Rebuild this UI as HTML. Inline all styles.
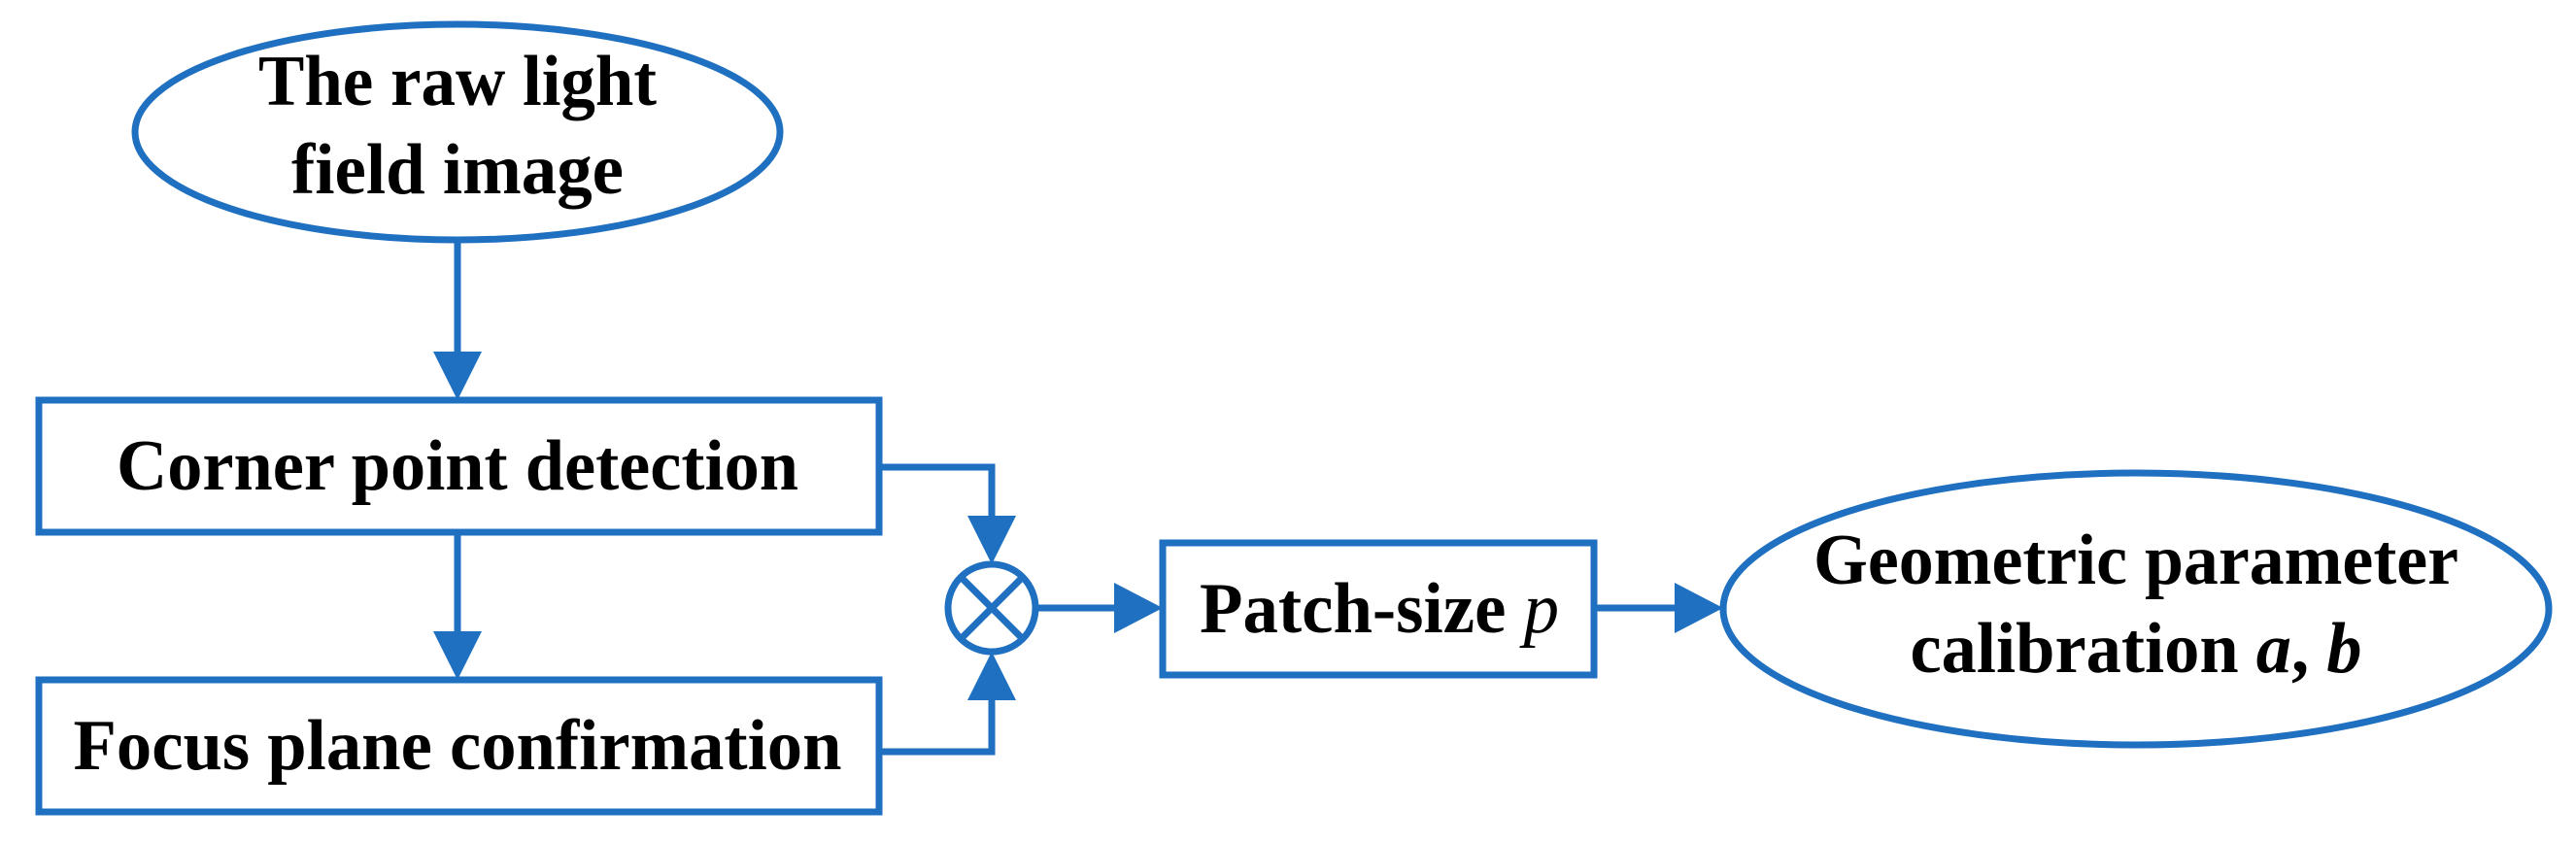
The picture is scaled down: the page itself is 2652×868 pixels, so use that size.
<!DOCTYPE html>
<html><head><meta charset="utf-8"><style>html,body{margin:0;padding:0;background:#fff}svg{display:block}</style></head>
<body>
<svg width="2652" height="868" viewBox="0 0 2652 868" xmlns="http://www.w3.org/2000/svg">
<g fill="none" stroke="#1f70c1" stroke-width="7">
<ellipse cx="471" cy="136" rx="332" ry="111"/>
<rect x="40" y="412" width="865" height="136"/>
<rect x="40" y="700" width="865" height="136"/>
<ellipse cx="1021" cy="626" rx="45" ry="45"/>
<line x1="989" y1="594" x2="1053" y2="658"/>
<line x1="1053" y1="594" x2="989" y2="658"/>
<rect x="1197" y="559" width="444" height="136"/>
<ellipse cx="2199" cy="627" rx="425" ry="140"/>
<polyline points="471,247 471,370"/>
<polyline points="471,548 471,658"/>
<polyline points="905,481 1021,481 1021,540"/>
<polyline points="905,774 1021,774 1021,712"/>
<polyline points="1066,626 1155,626"/>
<polyline points="1641,626 1732,626"/>
</g>
<g fill="#1f70c1">
<polygon points="446,362 496,362 471,412"/>
<polygon points="446,650 496,650 471,700"/>
<polygon points="996,531 1046,531 1021,581"/>
<polygon points="996,721 1046,721 1021,671"/>
<polygon points="1147,600 1147,652 1197,626"/>
<polygon points="1724,600 1724,652 1774,626"/>
</g>
<g font-family="'Liberation Serif', serif" font-weight="bold" font-size="74" fill="#000" text-anchor="middle">
<text x="471" y="108" textLength="410" lengthAdjust="spacingAndGlyphs">The raw light</text>
<text x="471" y="199" textLength="342" lengthAdjust="spacingAndGlyphs">field image</text>
<text x="471" y="504" textLength="702" lengthAdjust="spacingAndGlyphs">Corner point detection</text>
<text x="471" y="792" textLength="791" lengthAdjust="spacingAndGlyphs">Focus plane confirmation</text>
<text x="1420" y="651" textLength="370" lengthAdjust="spacingAndGlyphs">Patch-size <tspan font-style="italic" font-weight="normal">p</tspan></text>
<text x="2199" y="601" textLength="664" lengthAdjust="spacingAndGlyphs">Geometric parameter</text>
<text x="2199" y="692" textLength="465" lengthAdjust="spacingAndGlyphs">calibration <tspan font-style="italic">a</tspan>, <tspan font-style="italic">b</tspan></text>
</g>
</svg>
</body></html>
